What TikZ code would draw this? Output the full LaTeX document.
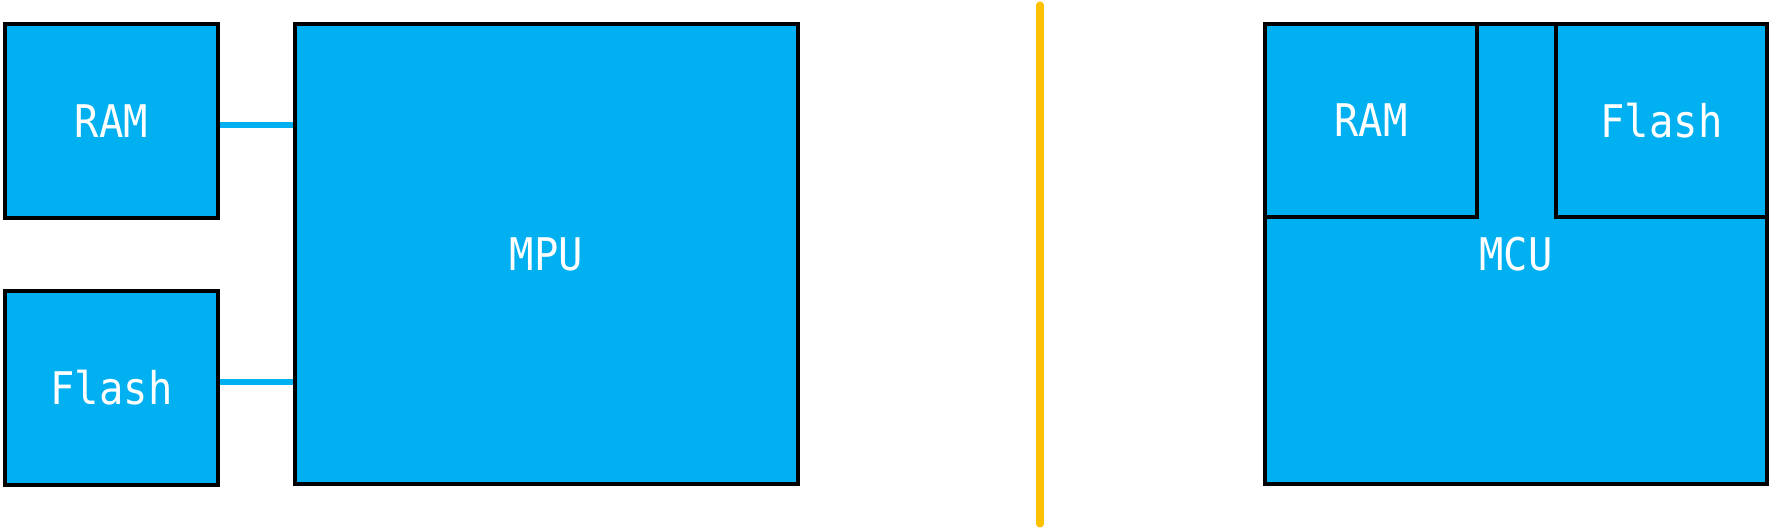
\documentclass[tikz,border=0pt]{standalone}
\usepackage{fontspec}
\newfontfamily\chipfont[FakeStretch=0.9]{DejaVu Sans Mono}
\definecolor{chipblue}{RGB}{0,176,240}
\definecolor{chipyellow}{RGB}{255,192,0}
\usetikzlibrary{positioning}

\begin{document}
\begin{tikzpicture}[
  box/.style={draw,line width=1.1pt,fill=chipblue,text=white,font=\chipfont\fontsize{12.8}{15}\selectfont,inner sep=0pt},
  link/.style={chipblue,line width=1.7pt}]
  \useasboundingbox (0,0) rectangle (17.75,-5.29);
  % MPU with external memories
  \node[box,minimum width=2.13cm,minimum height=1.94cm] (ram) at (1.115,-1.21) {RAM};
  \node[box,minimum width=2.13cm,minimum height=1.94cm] (flash) at (1.115,-3.88) {Flash};
  \node[box,minimum width=5.03cm,minimum height=4.60cm] (mpu) at (5.465,-2.54) {MPU};
  \draw[link] ([yshift=-0.4mm]ram.east) -- ([yshift=-0.4mm]ram.east -| mpu.west);
  \draw[link] ([yshift=0.6mm]flash.east) -- ([yshift=0.6mm]flash.east -| mpu.west);
  % divider
  \coordinate (top) at (10.40,-0.05);
  \coordinate (bottom) at (10.40,-5.24);
  \draw[chipyellow,line width=2pt,line cap=round] (top) -- (bottom);
  % MCU with internal memories
  \node[box,minimum width=5.02cm,minimum height=4.60cm] (mcu) at (15.16,-2.54) {MCU};
  \node[box,minimum width=2.12cm,minimum height=1.93cm] (mcuram) at (13.71,-1.205) {RAM};
  \node[box,minimum width=2.11cm,minimum height=1.93cm] (mcuflash) at (16.615,-1.205) {Flash};
\end{tikzpicture}
\end{document}
